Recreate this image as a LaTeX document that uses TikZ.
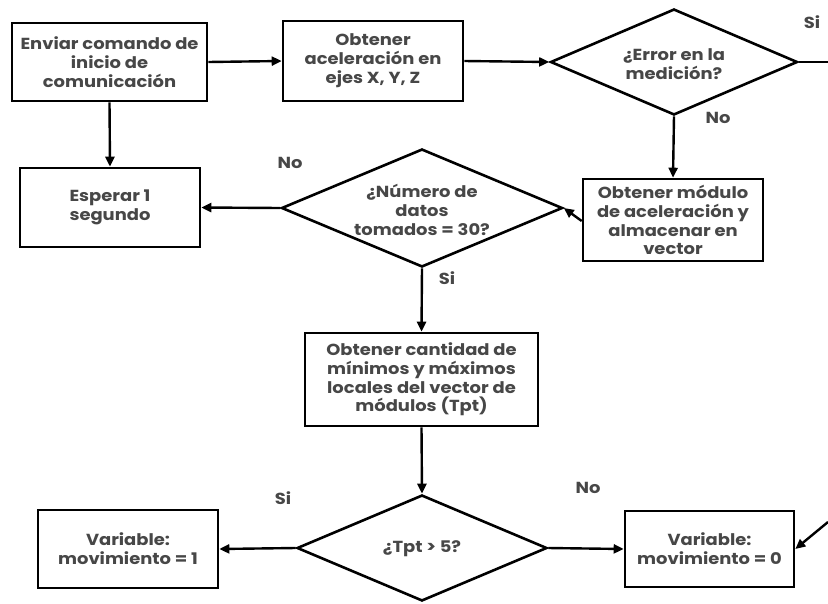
\documentclass[tikz,border=0pt]{standalone}
\usepackage{fontspec}
\setmainfont{Poppins}[FakeStretch=1.12]
\usetikzlibrary{shapes.geometric,arrows.meta}
\definecolor{txt}{HTML}{474747}
\begin{document}
\begin{tikzpicture}[x=1pt,y=-1pt,
  every node/.style={font=\fontsize{16}{18.8}\selectfont\bfseries,text=txt},
  proc/.style={draw=black,line width=2.6pt,fill=white,rectangle,align=center,inner sep=0pt},
  dia/.style={draw=black,line width=2.6pt,fill=white,diamond,inner sep=0pt},
  lbl/.style={align=center,inner sep=0pt},
  arr/.style={line width=2.4pt,-{Triangle[length=10pt,width=9pt]}},
  ln/.style={line width=2.4pt}]
\useasboundingbox (0,0) rectangle (828,603);
\node[proc,minimum width=195pt,minimum height=78pt] (b1) at (109.5,62) {Enviar comando de\\inicio de\\comunicación};
\node[proc,minimum width=180pt,minimum height=80pt] (b2) at (373,61) {Obtener\\aceleración en\\ejes X, Y, Z};
\node[dia,minimum width=247pt,minimum height=106pt] (d1) at (674,62) {};
\node[lbl] (t1) at (674,64) {¿Error en la\\medición?};
\node[proc,minimum width=180pt,minimum height=82pt] (b3) at (673,220) {Obtener módulo\\de aceleración y\\almacenar en\\vector};
\node[dia,minimum width=281pt,minimum height=118pt] (d2) at (422,208) {};
\node[lbl] (t2) at (422,210) {¿Número de\\datos\\tomados = 30?};
\node[proc,minimum width=180pt,minimum height=79pt] (b4) at (110,207.5) {Esperar 1\\segundo};
\node[proc,minimum width=233pt,minimum height=93pt] (b5) at (421.5,379.5) {Obtener cantidad de\\mínimos y máximos\\locales del vector de\\módulos (Tpt)};
\node[dia,minimum width=250pt,minimum height=106pt] (d3) at (422,548) {};
\node[lbl] (t3) at (422,549) {¿Tpt > 5?};
\node[proc,minimum width=180pt,minimum height=78pt] (b6) at (128,549) {Variable:\\movimiento = 1};
\node[proc,minimum width=169pt,minimum height=76pt] (b7) at (709.5,549) {Variable:\\movimiento = 0};
\coordinate (e1) at (828,62);
\coordinate (e2) at (828,522);
\draw[arr] (b1.east) -- (b2.west);
\draw[arr] (b2.east) -- (d1.west);
\draw[ln] (d1.east) -- (e1);
\draw[arr] (d1.south) -- (b3.north);
\draw[arr] ([yshift=-1pt]b3.west) -- (d2.east);
\draw[arr] (d2.west) -- (b4.east);
\draw[arr] (b1.south) -- (b4.north);
\draw[arr] (d2.south) -- (b5.north);
\draw[arr] (b5.south) -- (d3.north);
\draw[arr] (d3.west) -- (b6.east);
\draw[arr] (d3.east) -- (b7.west);
\draw[arr] (e2) -- (b7.east);
\node (s1) at (812,22) {Si};
\node (n1) at (718,118) {No};
\node (n2) at (290,163) {No};
\node (s2) at (447,278) {Si};
\node (s3) at (283,498) {Si};
\node (n3) at (588,488) {No};
\end{tikzpicture}
\end{document}
